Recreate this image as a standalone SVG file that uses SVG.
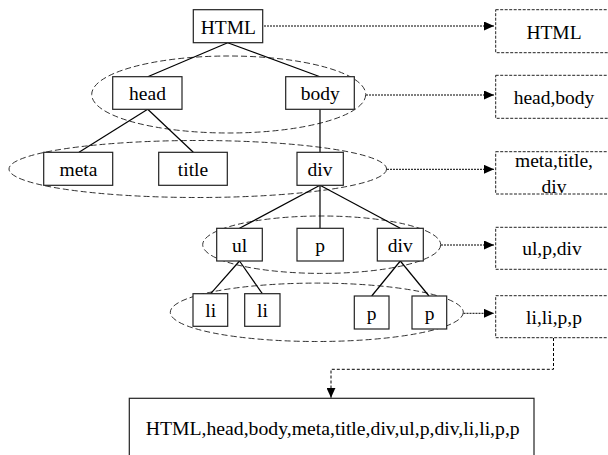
<svg xmlns="http://www.w3.org/2000/svg" width="608" height="455" viewBox="0 0 608 455">
<defs>
<style>
text{font-family:"Liberation Serif","Times New Roman",serif;font-size:19.5px;fill:#000;text-anchor:middle}
.box{fill:#fff;stroke:#222;stroke-width:1.2}
.rbox{fill:#fff;stroke:#222;stroke-width:1;stroke-dasharray:3,1.5}
.ell{fill:none;stroke:#333;stroke-width:1;stroke-dasharray:6,3}
.edge{stroke:#000;stroke-width:1.2;fill:none}
.dot{stroke:#000;stroke-width:1;fill:none;stroke-dasharray:2,1;marker-end:url(#ah)}
.dash{stroke:#000;stroke-width:1;fill:none;stroke-dasharray:3,2;marker-end:url(#ah)}
</style>
<marker id="ah" viewBox="0 0 10 9" refX="10" refY="4.5" markerWidth="10" markerHeight="9" markerUnits="userSpaceOnUse" orient="auto">
<path d="M0,0 L10,4.5 L0,9 Z" fill="#000"/>
</marker>
</defs>
<rect width="608" height="455" fill="#fff"/>
<g id="levels">
<ellipse class="ell" cx="228.7" cy="94.5" rx="137" ry="38.5"/>
<ellipse class="ell" cx="197.8" cy="169" rx="188.8" ry="28.5"/>
<ellipse class="ell" cx="321.7" cy="244.7" rx="119" ry="28.7"/>
<ellipse class="ell" cx="316.8" cy="312.3" rx="146.5" ry="29.2"/>
</g>
<g id="connectors">
<line class="edge" x1="227.7" y1="42.7" x2="147.7" y2="76.7"/>
<line class="edge" x1="227.7" y1="42.7" x2="320" y2="76.7"/>
<line class="edge" x1="147.7" y1="109.3" x2="79" y2="152.3"/>
<line class="edge" x1="147.7" y1="109.3" x2="193.3" y2="152.3"/>
<line class="edge" x1="320" y1="109.3" x2="320" y2="152.3"/>
<line class="edge" x1="320" y1="185.3" x2="239.5" y2="228.3"/>
<line class="edge" x1="320" y1="185.3" x2="320" y2="228.3"/>
<line class="edge" x1="320" y1="185.3" x2="400.3" y2="228.3"/>
<line class="edge" x1="239.5" y1="261" x2="210.7" y2="293.7"/>
<line class="edge" x1="239.5" y1="261" x2="262.3" y2="293.7"/>
<line class="edge" x1="400.3" y1="261" x2="371.7" y2="296"/>
<line class="edge" x1="400.3" y1="261" x2="429" y2="296"/>
<line class="dot" x1="264" y1="26" x2="494" y2="26"/>
<line class="dot" x1="366" y1="95" x2="494" y2="95"/>
<line class="dot" x1="387" y1="169.3" x2="494" y2="169.3"/>
<line class="dot" x1="441" y1="245" x2="494" y2="245"/>
<line class="dot" x1="463.5" y1="313.3" x2="494" y2="313.3"/>
<path class="dash" d="M553.5,338 V369.3 H331 V397.8"/>
</g>
<g id="n-html"><rect class="box" x="193.3" y="9.7" width="69.4" height="33"/><text x="228.3" y="33.5">HTML</text></g>
<g id="n-head"><rect class="box" x="112.7" y="76.7" width="69.3" height="32.6"/><text x="147.5" y="100">head</text></g>
<g id="n-body"><rect class="box" x="285.7" y="76.7" width="68.6" height="32.6"/><text x="320.3" y="100">body</text></g>
<g id="n-meta"><rect class="box" x="43.7" y="152.3" width="69" height="33"/><text x="78.5" y="175.7">meta</text></g>
<g id="n-title"><rect class="box" x="158.7" y="152.3" width="68.6" height="33"/><text x="193" y="175.7">title</text></g>
<g id="n-div1"><rect class="box" x="297" y="152.3" width="46.3" height="33"/><text x="320" y="175.7">div</text></g>
<g id="n-ul"><rect class="box" x="216.7" y="228.3" width="45.6" height="32.7"/><text x="239.5" y="251.5">ul</text></g>
<g id="n-p1"><rect class="box" x="297" y="228.3" width="46.3" height="32.7"/><text x="320" y="251.5">p</text></g>
<g id="n-div2"><rect class="box" x="377.3" y="228.3" width="46" height="32.7"/><text x="400.3" y="251.5">div</text></g>
<g id="n-li1"><rect class="box" x="193" y="293.7" width="34.7" height="32.6"/><text x="210.7" y="317">li</text></g>
<g id="n-li2"><rect class="box" x="244.7" y="293.7" width="35.3" height="32.6"/><text x="262.5" y="317">li</text></g>
<g id="n-p2"><rect class="box" x="354.3" y="296" width="34.7" height="33"/><text x="371.7" y="319.5">p</text></g>
<g id="n-p3"><rect class="box" x="412" y="296" width="34.7" height="33"/><text x="429.5" y="319.5">p</text></g>
<g id="r-1"><rect class="rbox" x="495.7" y="9.7" width="120" height="43"/><text x="554" y="39">HTML</text></g>
<g id="r-2"><rect class="rbox" x="495.7" y="75.3" width="120" height="43"/><text x="554" y="104">head,body</text></g>
<g id="r-3"><rect class="rbox" x="495.7" y="151.7" width="120" height="42.3"/><text x="554" y="166.7">meta,title,</text><text x="554" y="192.7">div</text></g>
<g id="r-4"><rect class="rbox" x="495.7" y="227.3" width="120" height="42"/><text x="552" y="255">ul,p,div</text></g>
<g id="r-5"><rect class="rbox" x="495.7" y="295.7" width="120" height="42"/><text x="554" y="323.5">li,li,p,p</text></g>
<g id="result"><rect class="box" x="129.3" y="398.3" width="404.7" height="70"/><text x="332.7" y="435" textLength="374" lengthAdjust="spacingAndGlyphs">HTML,head,body,meta,title,div,ul,p,div,li,li,p,p</text></g>
</svg>
